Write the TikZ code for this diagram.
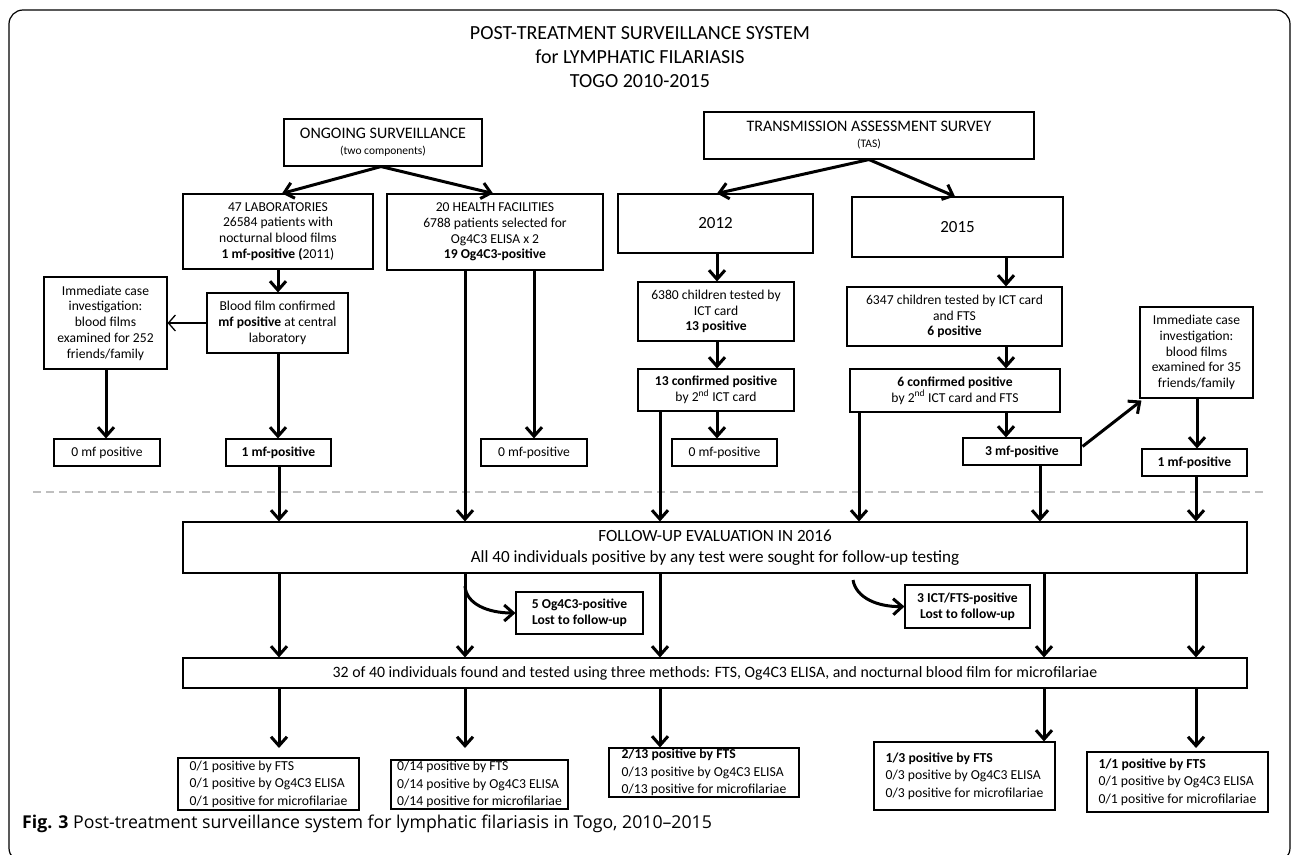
\documentclass[tikz,border=0pt]{standalone}
\usepackage{fontspec}
\setmainfont{Carlito}
\newfontfamily\capfont{Open Sans}
\usetikzlibrary{arrows.meta,calc}
\begin{document}
\begin{tikzpicture}[x=1pt,y=-1pt,
 box/.style={draw, line width=1.1pt, align=center, inner sep=0pt, font=\fontsize{13.6}{15.8}\selectfont},
 rbox/.style={draw, line width=1.1pt, align=left, inner sep=0pt, font=\fontsize{13.7}{17.5}\selectfont},
 arr/.style={line width=3pt, -{Straight Barb[length=9pt,width=16pt]}},
 thinarr/.style={line width=1.3pt, -{Straight Barb[length=7pt,width=16pt]}},
 frame/.style={line width=1.2pt, rounded corners=14pt},
 sepline/.style={gray!50, line width=2pt, dash pattern=on 8pt off 5pt},
]
\useasboundingbox (0,0) rectangle (1292,854);
\draw[frame] (9,10) rectangle (1290,862);

\node[align=center, font=\fontsize{20}{24}\selectfont] (title) at (640,57) {POST-TREATMENT SURVEILLANCE SYSTEM\\for LYMPHATIC FILARIASIS\\TOGO 2010-2015};

\node[box, minimum width=198pt, minimum height=47pt] (ongo) at (383,142.5) {{\fontsize{16}{20}\selectfont ONGOING SURVEILLANCE}\\{\fontsize{11.5}{14}\selectfont (two components)}};
\node[box, minimum width=330pt, minimum height=47pt] (tas) at (869,135.5) {{\fontsize{16}{20}\selectfont TRANSMISSION ASSESSMENT SURVEY}\\{\fontsize{11.5}{14}\selectfont (TAS)}};

\node[box, minimum width=190pt, minimum height=75pt] (lab) at (278,231.5) {47 LABORATORIES\\26584 patients with\\nocturnal blood films\\\textbf{1 mf-positive (}2011)};
\node[box, minimum width=216pt, minimum height=76pt] (hf) at (495,232) {20 HEALTH FACILITIES\\6788 patients selected for\\Og4C3 ELISA x 2\\\textbf{19 Og4C3-positive}};
\node[box, minimum width=195pt, minimum height=59pt, font=\fontsize{17}{20}\selectfont] (y12) at (715.5,223.5) {2012};
\node[box, minimum width=211pt, minimum height=60pt, font=\fontsize{17}{20}\selectfont] (y15) at (957.5,227) {2015};

\node[box, minimum width=123pt, minimum height=92pt] (imm1) at (105.5,323) {Immediate case\\investigation:\\blood films\\examined for 252\\friends/family};
\node[box, minimum width=141pt, minimum height=60pt] (bf) at (277.5,323) {Blood film confirmed\\\textbf{mf positive} at central\\laboratory};

\node[box, minimum width=156pt, minimum height=59pt] (t12) at (716,311.5) {6380 children tested by\\ICT card\\\textbf{13 positive}};
\node[box, minimum width=156pt, minimum height=42pt] (c12) at (716,390) {\textbf{13 confirmed positive}\\by 2\textsuperscript{nd} ICT card};
\node[box, minimum width=215pt, minimum height=59pt] (t15) at (954.5,316.5) {6347 children tested by ICT card\\and FTS\\\textbf{6 positive}};
\node[box, minimum width=210pt, minimum height=43pt] (c15) at (955,390.5) {\textbf{6 confirmed positive}\\by 2\textsuperscript{nd} ICT card and FTS};
\node[box, minimum width=113pt, minimum height=91pt] (imm2) at (1196.5,352.5) {Immediate case\\investigation:\\blood films\\examined for 35\\friends/family};

\node[box, minimum width=106pt, minimum height=27pt] (z1) at (107,452.5) {0 mf positive};
\node[box, minimum width=105pt, minimum height=27pt] (m1) at (278.5,452.5) {\textbf{1 mf-positive}};
\node[box, minimum width=106pt, minimum height=27pt] (z2) at (534,452.5) {0 mf-positive};
\node[box, minimum width=105pt, minimum height=27pt] (z3) at (724.5,452.5) {0 mf-positive};
\node[box, minimum width=118pt, minimum height=27pt] (m3) at (1022,451.5) {\textbf{3 mf-positive}};
\node[box, minimum width=105pt, minimum height=27pt] (m4) at (1194.5,462.5) {\textbf{1 mf-positive}};

\draw[sepline] (33,492) -- (1266,492);

\node[box, minimum width=1064pt, minimum height=51pt, font=\fontsize{17.1}{21}\selectfont] (fu) at (715,547.5) {FOLLOW-UP EVALUATION IN 2016\\All 40 individuals positive by any test were sought for follow-up testing};
\node[box, minimum width=127pt, minimum height=42pt] (lost1) at (579.5,613) {\textbf{5 Og4C3-positive}\\\textbf{Lost to follow-up}};
\node[box, minimum width=125pt, minimum height=43pt] (lost2) at (967.5,606.5) {\textbf{3 ICT/FTS-positive}\\\textbf{Lost to follow-up}};
\node[box, minimum width=1064pt, minimum height=30pt, font=\fontsize{15.8}{20}\selectfont] (tt) at (715,673) {32 of 40 individuals found and tested using three methods: FTS, Og4C3 ELISA, and nocturnal blood film for microfilariae};

\node[rbox, minimum width=181pt, minimum height=52pt] (r1) at (268.5,784) {0/1 positive by FTS\\0/1 positive by Og4C3 ELISA\\0/1 positive for microfilariae};
\node[rbox, minimum width=177pt, minimum height=49pt] (r2) at (479.5,784.5) {0/14 positive by FTS\\0/14 positive by Og4C3 ELISA\\0/14 positive for microfilariae};
\node[rbox, minimum width=190pt, minimum height=49pt] (r3) at (704,772.5) {\textbf{2/13 positive by FTS}\\0/13 positive by Og4C3 ELISA\\0/13 positive for microfilariae};
\node[rbox, minimum width=181pt, minimum height=68pt] (r4) at (964.5,776) {\textbf{1/3 positive by FTS}\\0/3 positive by Og4C3 ELISA\\0/3 positive for microfilariae};
\node[rbox, minimum width=181pt, minimum height=60pt] (r5) at (1177.5,782) {\textbf{1/1 positive by FTS}\\0/1 positive by Og4C3 ELISA\\0/1 positive for microfilariae};

\node[anchor=base west, inner sep=0pt, font=\capfont\fontsize{17.7}{22}\selectfont] (cap) at (22,828) {\textbf{Fig. 3} Post-treatment surveillance system for lymphatic filariasis in Togo, 2010–2015};

% top arrows
\draw[arr] (381,0 |- ongo.south) -- (282,0 |- lab.north);
\draw[arr] (381,0 |- ongo.south) -- (493,0 |- hf.north);
\draw[arr] (869,0 |- tas.south) -- (717,0 |- y12.north);
\draw[arr] (869,0 |- tas.south) -- (955,0 |- y15.north);

% left column
\draw[arr] (278,0 |- lab.south) -- (278,0 |- bf.north);
\draw[thinarr] (bf.west) -- (imm1.east);
\draw[arr] (106,0 |- imm1.south) -- (106,0 |- z1.north);
\draw[arr] (278,0 |- bf.south) -- (278,0 |- m1.north);
\draw[arr] (465,0 |- hf.south) -- (465,0 |- fu.north);
\draw[arr] (534,0 |- hf.south) -- (534,0 |- z2.north);

% 2012
\draw[arr] (717,0 |- y12.south) -- (717,0 |- t12.north);
\draw[arr] (717,0 |- t12.south) -- (717,0 |- c12.north);
\draw[arr] (717,0 |- c12.south) -- (717,0 |- z3.north);
\draw[arr] (660,0 |- c12.south) -- (660,0 |- fu.north);

% 2015
\draw[arr] (1006,0 |- y15.south) -- (1006,0 |- t15.north);
\draw[arr] (1006,0 |- t15.south) -- (1006,0 |- c15.north);
\draw[arr] (1006,0 |- c15.south) -- (1006,0 |- m3.north);
\draw[arr] (859,0 |- c15.south) -- (859,0 |- fu.north);
\draw[arr] ($(m3.north east)+(1,9)$) -- ($(imm2.south west)+(2,2)$);
\draw[arr] (1197,0 |- imm2.south) -- (1197,0 |- m4.north);

% into follow-up
\draw[arr] (279,0 |- m1.south) -- (279,0 |- fu.north);
\draw[arr] (1040,0 |- m3.south) -- (1040,0 |- fu.north);
\draw[arr] (1196,0 |- m4.south) -- (1196,0 |- fu.north);

% follow-up to tested
\foreach \xx in {279,465,660,1044,1196}{
  \draw[arr] (\xx,0 |- fu.south) -- (\xx,0 |- tt.north);
}
\coordinate (cv1) at (465,586);
\coordinate (cv2) at (853,580);
\draw[arr] (cv1) .. controls (466,604) and (488,613) .. (lost1.west);
\draw[arr] (cv2) .. controls (856,598) and (878,607) .. (lost2.west);

% tested to results
\draw[arr] (279,0 |- tt.south) -- (279,748);
\draw[arr] (465,0 |- tt.south) -- (465,748);
\draw[arr] (660,0 |- tt.south) -- (660,0 |- r3.north);
\draw[arr] (1044,0 |- tt.south) -- (1044,0 |- r4.north);
\draw[arr] (1196,0 |- tt.south) -- (1196,748);
\end{tikzpicture}
\end{document}
